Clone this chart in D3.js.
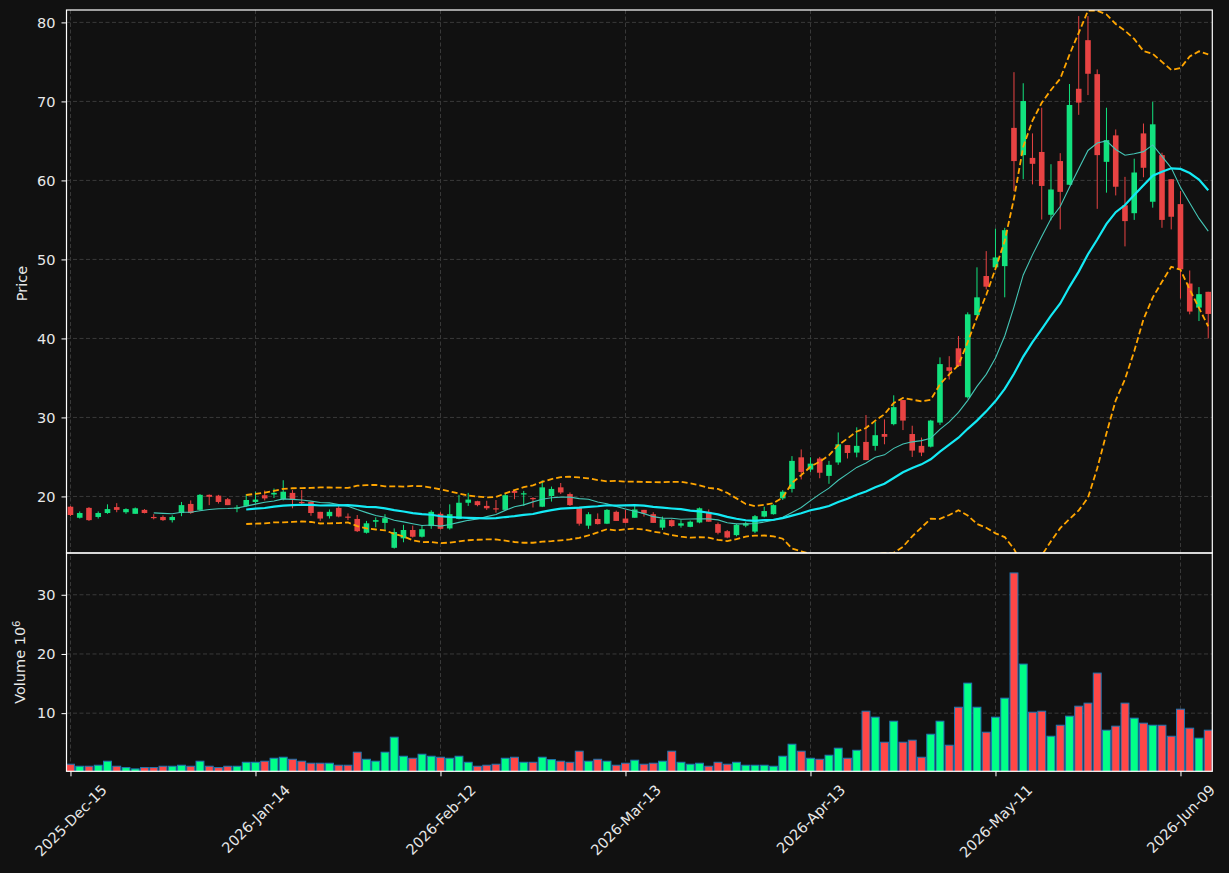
<!DOCTYPE html>
<html>
<head>
<meta charset="utf-8">
<script src="https://cdnjs.cloudflare.com/ajax/libs/d3/7.8.5/d3.min.js"></script>
<style>
  html, body { margin: 0; padding: 0; background: #111111; }
  svg { display: block; font-family: 'DejaVu Sans', sans-serif; }
</style>
</head>
<body>
<script>
// --- data (one entry per trading day, index based x axis) ---
const opens = [18.7,17.3,18.55,17.4,17.9,18.65,18.0,17.8,18.3,17.4,
  17.4,17.0,17.9,19.05,18.3,20.2,20.1,19.65,18.45,18.8,
  19.3,20.15,20.25,19.65,20.45,19.3,19.3,18.05,17.5,18.55,
  17.45,17.15,15.4,16.8,16.65,13.5,14.7,15.75,14.9,16.25,
  17.8,15.95,17.15,19.2,19.4,18.8,18.5,18.3,20.7,20.27,
  19.8,18.7,20.05,21.15,20.3,18.55,16.3,17.15,16.55,18.05,
  17.2,17.3,18.3,17.75,16.05,17.0,16.3,16.15,16.7,18.05,
  16.5,15.6,15.1,16.3,15.55,17.45,17.75,19.75,20.95,24.95,
  23.4,24.8,22.6,24.3,26.5,25.55,26.9,26.4,27.9,29.15,
  32.2,27.9,26.4,26.3,29.35,36.35,38.75,32.55,42.95,47.9,
  49.0,49.15,66.65,63.2,62.85,63.6,55.65,62.45,59.45,71.6,
  77.75,73.45,62.35,65.7,56.85,55.85,65.95,57.3,63.2,60.15,
  57.0,46.95,43.9,45.9];

const highs = [18.8,18.1,18.65,18.1,19.0,19.15,18.5,18.6,18.4,17.75,
  17.6,17.6,19.3,19.5,20.3,20.25,20.2,19.8,18.9,20.3,
  20.6,20.75,21.0,22.05,20.8,20.8,19.35,18.05,18.35,18.8,
  17.85,17.65,16.9,17.35,17.75,15.95,16.4,16.3,16.3,18.25,
  18.0,19.0,20.2,20.45,19.45,19.45,19.55,20.4,20.8,20.7,
  19.9,22.05,21.25,21.7,20.5,18.6,18.0,17.85,18.4,18.2,
  18.3,18.9,18.3,18.0,17.45,17.1,17.0,16.95,18.6,18.35,
  16.7,15.75,16.5,16.8,17.65,18.7,19.0,20.8,25.1,25.95,
  24.95,25.0,24.5,28.1,26.5,28.75,30.3,29.45,29.75,32.8,
  32.2,28.95,27.45,29.7,37.6,37.75,40.3,43.3,49.0,51.05,
  53.9,54.0,73.7,72.3,65.95,69.2,62.05,63.45,72.2,80.8,
  80.8,74.05,69.2,66.45,60.45,62.75,67.2,69.95,63.5,60.15,
  58.65,48.6,46.5,45.9];

const lows = [17.5,17.2,16.9,17.2,17.8,18.0,17.8,17.8,17.85,17.1,
  16.9,16.7,17.5,17.8,18.2,18.9,19.1,18.9,18.0,18.7,
  19.1,19.5,19.8,19.5,18.5,19.0,17.55,16.9,17.2,17.35,
  17.0,15.5,15.3,16.1,15.8,13.4,14.2,14.8,14.8,15.9,
  15.8,15.8,17.1,18.8,18.75,18.3,17.95,18.25,19.65,18.8,
  18.6,18.65,19.35,20.3,18.8,16.3,15.9,16.45,16.5,16.9,
  16.6,17.3,17.45,16.65,15.75,16.15,16.05,16.1,16.6,16.8,
  15.2,14.7,14.95,16.1,15.35,17.35,17.7,19.55,20.5,22.15,
  23.1,22.3,21.6,24.0,24.8,24.95,24.6,25.8,26.6,29.0,
  28.4,25.0,25.1,26.2,29.05,34.8,36.4,32.4,42.9,46.2,
  48.9,45.2,58.65,60.15,59.5,55.05,54.95,53.8,59.4,68.3,
  70.8,56.4,58.45,58.1,51.65,55.0,60.4,56.55,54.0,53.8,
  45.05,43.05,42.2,40.0];

const closes = [17.65,17.9,17.0,17.9,18.4,18.3,18.4,18.5,17.9,17.3,
  17.0,17.4,18.9,17.9,20.2,19.95,19.3,18.9,18.6,19.55,
  19.6,19.75,20.45,20.6,19.55,19.15,17.9,17.2,18.05,17.45,
  17.4,15.6,16.6,17.0,17.25,15.5,15.75,14.9,15.85,18.05,
  15.9,17.75,19.2,19.6,18.9,18.5,18.45,20.15,20.45,20.4,
  19.7,21.15,20.95,20.5,18.9,16.55,17.75,16.5,18.3,16.9,
  16.65,18.35,17.85,16.65,17.1,16.25,16.6,16.8,18.5,16.8,
  15.4,14.8,16.4,16.6,17.5,18.15,18.9,20.6,24.5,23.1,
  24.15,23.0,24.0,26.6,25.5,26.4,24.6,27.75,27.55,31.3,
  29.6,25.8,25.55,29.6,36.75,35.9,36.5,43.05,45.2,46.55,
  50.25,53.7,62.45,70.05,62.1,59.3,58.85,58.55,69.55,69.85,
  73.5,63.2,65.1,59.2,54.85,61.0,61.6,67.1,55.0,55.4,
  48.75,43.4,45.6,43.1];

// volume in millions
const volumes = [1.37,1.03,1.03,1.2,1.88,1.03,0.8,0.58,0.8,0.8,
  1.03,1.03,1.2,1.03,1.88,1.03,0.8,1.03,1.03,1.7,
  1.7,1.88,2.38,2.55,2.21,1.88,1.54,1.54,1.54,1.2,
  1.2,3.4,2.21,1.88,3.4,5.94,2.72,2.38,3.06,2.72,
  2.55,2.38,2.72,1.7,1.03,1.2,1.37,2.38,2.55,1.7,
  1.7,2.55,2.15,1.88,1.7,3.57,1.88,2.21,1.88,1.2,
  1.54,2.05,1.37,1.54,1.88,3.57,1.7,1.37,1.54,1.03,
  1.7,1.37,1.7,1.2,1.2,1.2,1.03,2.72,4.75,3.57,
  2.38,2.21,2.89,4.08,2.38,3.73,10.33,9.32,5.09,8.64,
  5.09,5.43,2.55,6.44,8.64,4.58,11.0,15.07,11.0,6.78,
  9.32,12.53,33.69,18.29,10.16,10.33,6.1,7.96,9.49,11.18,
  11.69,16.77,7.12,7.8,11.69,9.15,8.31,7.96,7.96,6.1,
  10.67,7.46,5.77,7.12];

const tickIndex = [0, 20, 40, 60, 80, 100, 120];
const tickLabels = ['2025-Dec-15', '2026-Jan-14', '2026-Feb-12', '2026-Mar-13',
  '2026-Apr-13', '2026-May-11', '2026-Jun-09'];
const priceTicks = [20, 30, 40, 50, 60, 70, 80];
const volumeTicks = [10, 20, 30];

// --- layout ---
const W = 1229, H = 873;
const left = 66.5, right = 1212.3;
const priceTop = 10, priceBottom = 553, volBottom = 771.3;

const upCandle = '#12e27e', downCandle = '#e84343';
const upVol = '#00ff88', downVol = '#ff4747';
const gridColor = '#3a3a3a';
const textColor = '#e8e8e8';
const fontSize = 14.5;

const svg = d3.select('body')
  .append('svg')
  .attr('width', W)
  .attr('height', H);

svg.append('rect').attr('width', W).attr('height', H).attr('fill', '#111111');

const n = closes.length;
const x = d3.scaleLinear().domain([-0.43, 123.44]).range([left, right]);
const yP = d3.scaleLinear().domain([12.84, 81.57]).range([priceBottom, priceTop]);
const yV = d3.scaleLinear()
  .domain([0.3 * d3.min(volumes), 1.1 * d3.max(volumes)])
  .range([volBottom, priceBottom]);

// clip paths for both panels
const defs = svg.append('defs');
defs.append('clipPath').attr('id', 'clipP').append('rect')
  .attr('x', left).attr('y', priceTop).attr('width', right - left).attr('height', priceBottom - priceTop);
defs.append('clipPath').attr('id', 'clipV').append('rect')
  .attr('x', left).attr('y', priceBottom).attr('width', right - left).attr('height', volBottom - priceBottom);

// grid
const grid = svg.append('g')
  .attr('stroke', gridColor)
  .attr('stroke-width', 1)
  .attr('stroke-dasharray', '4,2.5');

grid.selectAll('.gp').data(priceTicks).enter().append('line')
  .attr('x1', left).attr('x2', right)
  .attr('y1', (d) => yP(d)).attr('y2', (d) => yP(d));
grid.selectAll('.gv').data(volumeTicks).enter().append('line')
  .attr('x1', left).attr('x2', right)
  .attr('y1', (d) => yV(d)).attr('y2', (d) => yV(d));
grid.selectAll('.gx').data(tickIndex).enter().append('line')
  .attr('x1', (d) => x(d)).attr('x2', (d) => x(d))
  .attr('y1', priceTop).attr('y2', volBottom);

// candles
const idx = d3.range(n);
const isUp = (i) => closes[i] >= opens[i];
const bodyW = 5.6;

const candles = svg.append('g').attr('clip-path', 'url(#clipP)');
candles.selectAll('.wick').data(idx).enter().append('line')
  .attr('x1', (i) => x(i)).attr('x2', (i) => x(i))
  .attr('y1', (i) => yP(highs[i])).attr('y2', (i) => yP(lows[i]))
  .attr('stroke', (i) => isUp(i) ? upCandle : downCandle)
  .attr('stroke-width', 1);
candles.selectAll('.body').data(idx).enter().append('rect')
  .attr('x', (i) => x(i) - bodyW / 2)
  .attr('width', bodyW)
  .attr('y', (i) => yP(Math.max(opens[i], closes[i])))
  .attr('height', (i) => Math.max(1.2, Math.abs(yP(opens[i]) - yP(closes[i]))))
  .attr('fill', (i) => isUp(i) ? upCandle : downCandle);

// moving averages + bollinger (20, 2)
function rollingMean(arr, p) {
  return arr.map((_, i) => i < p - 1 ? null : d3.mean(arr.slice(i - p + 1, i + 1)));
}
function rollingStd(arr, p) {
  return arr.map((_, i) => i < p - 1 ? null : d3.deviation(arr.slice(i - p + 1, i + 1)));
}
const ma10 = rollingMean(closes, 10);
const ma20 = rollingMean(closes, 20);
const sd20 = rollingStd(closes, 20);
const bbUpper = ma20.map((m, i) => m == null ? null : m + 2 * sd20[i]);
const bbLower = ma20.map((m, i) => m == null ? null : m - 2 * sd20[i]);

const line = d3.line()
  .defined((d) => d != null)
  .x((d, i) => x(i))
  .y((d) => yP(d));

const lines = svg.append('g').attr('clip-path', 'url(#clipP)').attr('fill', 'none');
lines.append('path').attr('d', line(ma10))
  .attr('stroke', '#45c6b6').attr('stroke-width', 1.1);
lines.append('path').attr('d', line(ma20))
  .attr('stroke', '#14eaf5').attr('stroke-width', 2.2);
[bbUpper, bbLower].forEach((band) => {
  lines.append('path').attr('d', line(band))
    .attr('stroke', '#ffa500').attr('stroke-width', 1.8)
    .attr('stroke-dasharray', '6,3');
});

// volume bars
const barW = 7.9;
svg.append('g').attr('clip-path', 'url(#clipV)')
  .selectAll('.vol').data(idx).enter().append('rect')
  .attr('x', (i) => x(i) - barW / 2)
  .attr('width', barW)
  .attr('y', (i) => yV(volumes[i]))
  .attr('height', (i) => yV(0) - yV(volumes[i]))
  .attr('fill', (i) => isUp(i) ? upVol : downVol)
  .attr('stroke', '#1f77b4')
  .attr('stroke-width', 1);

// axes
function styleAxis(g) {
  g.select('.domain').remove();
  g.selectAll('.tick line').attr('stroke', '#ffffff').attr('stroke-width', 1);
  g.selectAll('.tick text')
    .attr('fill', textColor)
    .style('font-size', fontSize + 'px')
    .style('font-family', "'DejaVu Sans', sans-serif");
}

svg.append('g')
  .attr('transform', `translate(${left},0)`)
  .call(d3.axisLeft(yP).tickValues(priceTicks).tickSize(5).tickPadding(6))
  .call(styleAxis);

svg.append('g')
  .attr('transform', `translate(${left},0)`)
  .call(d3.axisLeft(yV).tickValues(volumeTicks).tickSize(5).tickPadding(6))
  .call(styleAxis);

const xAxis = svg.append('g')
  .attr('transform', `translate(0,${volBottom})`)
  .call(d3.axisBottom(x).tickValues(tickIndex).tickSize(5).tickFormat((d, i) => tickLabels[i]))
  .call(styleAxis);

// rotated date labels, centred on the tick like matplotlib (ha='center')
xAxis.selectAll('.tick text').each(function () {
  const t = d3.select(this);
  const len = this.getComputedTextLength();
  const half = (len + fontSize) * Math.SQRT1_2 / 2;
  t.attr('y', null).attr('dy', null)
    .attr('text-anchor', 'middle')
    .attr('dominant-baseline', 'central')
    .attr('transform', `translate(0,${11 + half}) rotate(-45)`);
});

// panel frames
const frame = svg.append('g').attr('fill', 'none').attr('stroke', '#ffffff').attr('stroke-width', 1.2);
frame.append('rect').attr('x', left).attr('y', priceTop).attr('width', right - left).attr('height', priceBottom - priceTop);
frame.append('rect').attr('x', left).attr('y', priceBottom).attr('width', right - left).attr('height', volBottom - priceBottom);

// axis titles
svg.append('text')
  .attr('transform', `translate(27,${(priceTop + priceBottom) / 2 + 2}) rotate(-90)`)
  .attr('text-anchor', 'middle')
  .attr('fill', textColor)
  .style('font-size', fontSize + 'px')
  .text('Price');

const vLabel = svg.append('text')
  .attr('transform', `translate(25,${(priceBottom + volBottom) / 2}) rotate(-90)`)
  .attr('text-anchor', 'middle')
  .attr('fill', textColor)
  .style('font-size', fontSize + 'px');
vLabel.append('tspan').text('Volume  10');
vLabel.append('tspan')
  .attr('dy', '-0.45em')
  .style('font-size', (fontSize * 0.7) + 'px')
  .text('6');
</script>
</body>
